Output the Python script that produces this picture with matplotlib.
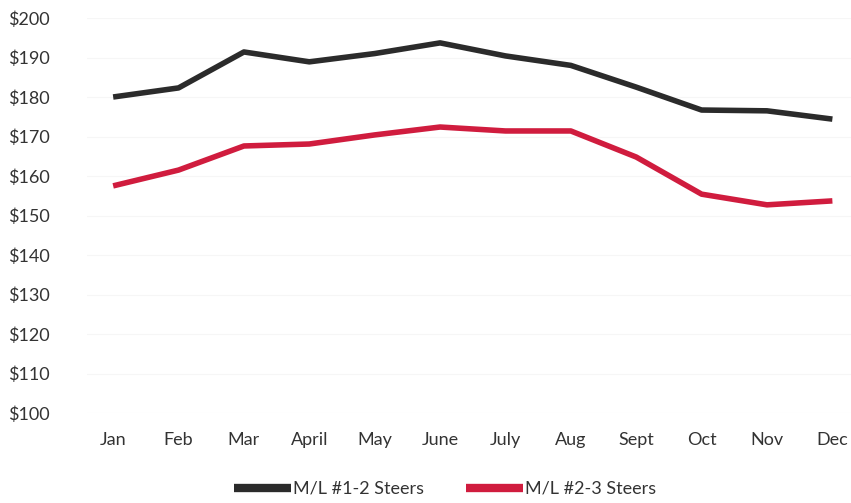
import matplotlib.pyplot as plt
import numpy as np

plt.rcParams['font.family'] = ['Lato', 'DejaVu Sans']

months = ["Jan", "Feb", "Mar", "April", "May", "June", "July", "Aug", "Sept", "Oct", "Nov", "Dec"]
# monthly prices
steers_12 = [180.0, 182.3, 191.4, 188.9, 191.0, 193.7, 190.4, 188.0, 182.5, 176.7, 176.5, 174.4]
steers_23 = [157.5, 161.5, 167.6, 168.1, 170.4, 172.4, 171.4, 171.4, 164.8, 155.4, 152.7, 153.7]
yticks = list(range(100, 201, 10))

fig = plt.figure(figsize=(8.51, 5.03), dpi=100)
ax = fig.add_axes([87 / 851, 90 / 503, 765 / 851, 395 / 503])

x = np.arange(len(months))
ax.plot(x, steers_12, color="#2b2b2b", lw=4, solid_capstyle="butt", label="M/L #1-2 Steers")
ax.plot(x, steers_23, color="#d01c3e", lw=4, solid_capstyle="butt", label="M/L #2-3 Steers")

ax.set_xlim(-0.4, 11.3)
ax.set_ylim(100, 200)
ax.set_yticks(yticks)
ax.set_yticklabels(["$" + str(v) for v in yticks], fontsize=13, color="#333333")
ax.set_xticks(x)
ax.set_xticklabels(months, fontsize=13, color="#333333")
ax.tick_params(length=0)
ax.tick_params(axis="y", pad=57)
ax.tick_params(axis="x", pad=14)
for lab in ax.get_yticklabels():
    lab.set_horizontalalignment("left")
ax.grid(axis="y", color="#f6f6f6", lw=0.8)
ax.set_axisbelow(True)
for s in ax.spines.values():
    s.set_visible(False)

leg = fig.legend(loc="center", bbox_to_anchor=(445 / 851, 1 - 489 / 503), ncol=2, frameon=False,
                 fontsize=13, handlelength=3.2, handletextpad=0.1, columnspacing=2.3,
                 labelcolor="#333333")
for h in leg.legend_handles:
    h.set_linewidth(6)

fig.savefig("out.png", dpi=100)
